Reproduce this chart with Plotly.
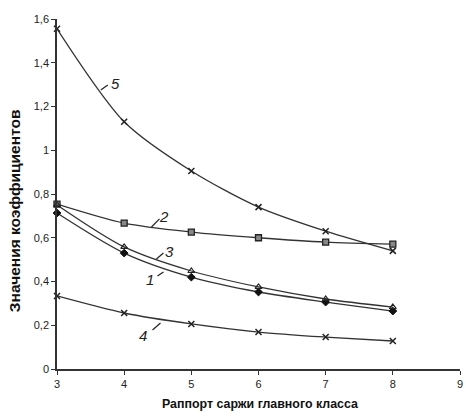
import plotly.graph_objects as go

x_vals = [3, 4, 5, 6, 7, 8]
s1 = [0.713, 0.53, 0.42, 0.352, 0.306, 0.265]
s2 = [0.754, 0.667, 0.626, 0.60, 0.58, 0.571]
s3 = [0.75, 0.558, 0.448, 0.375, 0.32, 0.283]
s4 = [0.334, 0.256, 0.206, 0.169, 0.146, 0.128]
s5 = [1.555, 1.13, 0.905, 0.74, 0.63, 0.54]

y_tickvals = [0, 0.2, 0.4, 0.6, 0.8, 1.0, 1.2, 1.4, 1.6]
y_ticktext = ["0", "0,2", "0,4", "0,6", "0,8", "1", "1,2", "1,4", "1,6"]
x_tickvals = [3, 4, 5, 6, 7, 8, 9]

x_title = "Раппорт саржи главного класса"
y_title = "Значения коэффициентов"

# curve labels: text, text position, leader line start/end
label_text = ["1", "2", "3", "4", "5"]
label_x = [4.378, 4.60, 4.674, 4.274, 3.874]
label_y = [0.411, 0.695, 0.535, 0.155, 1.307]
lead_x0 = [4.496, 4.407, 4.481, 4.422, 3.652]
lead_y0 = [0.425, 0.649, 0.503, 0.178, 1.275]
lead_x1 = [4.585, 4.526, 4.585, 4.541, 3.756]
lead_y1 = [0.443, 0.686, 0.530, 0.210, 1.298]

LC = "#333333"
fig = go.Figure()
series = [
    (s1, dict(symbol="diamond", size=6, color="#111111", line=dict(width=1, color="#111111"))),
    (s2, dict(symbol="square", size=6, color="#888888", line=dict(width=1.3, color="#222222"))),
    (s3, dict(symbol="triangle-up-open", size=6, color="#222222", line=dict(width=1.2, color="#222222"))),
    (s4, dict(symbol="x-thin", size=6, color="#222222", line=dict(width=1.5, color="#222222"))),
    (s5, dict(symbol="x-thin", size=6, color="#222222", line=dict(width=1.5, color="#222222"))),
]
for ys, mk in series:
    fig.add_trace(go.Scatter(x=x_vals, y=ys, mode="lines+markers",
                             line=dict(color=LC, width=1.3, shape="spline", smoothing=0.8),
                             marker=mk, showlegend=False, cliponaxis=False))

for i in range(len(label_text)):
    fig.add_shape(type="line", xref="x", yref="y", x0=lead_x0[i], y0=lead_y0[i],
                  x1=lead_x1[i], y1=lead_y1[i], line=dict(color="#222222", width=1.2))
    fig.add_annotation(x=label_x[i], y=label_y[i], text="<i>" + label_text[i] + "</i>",
                       showarrow=False, font=dict(family="Liberation Sans", size=15, color="#222222"))

# axis titles
fig.add_annotation(xref="paper", yref="paper", x=0.504, y=0, yshift=-35, xanchor="center",
                   yanchor="middle", showarrow=False, text="<b>" + x_title + "</b>",
                   font=dict(family="Liberation Sans", size=12.4, color="#111111"))
fig.add_annotation(xref="paper", yref="paper", x=0, xshift=-43, y=0.451, xanchor="center",
                   yanchor="middle", showarrow=False, textangle=-90, text="<b>" + y_title + "</b>",
                   font=dict(family="Liberation Sans", size=15.5, color="#111111"))

fig.update_layout(
    width=466, height=416,
    margin=dict(l=57, r=6, t=19, b=47),
    paper_bgcolor="white", plot_bgcolor="white",
    font=dict(family="Liberation Sans", size=11, color="#222222"),
)
fig.update_xaxes(range=[3, 9], tickvals=x_tickvals, showgrid=False, zeroline=False,
                 showline=True, linecolor="#333333", linewidth=1.5, automargin=False,
                 ticks="outside", ticklen=4, tickcolor="#333333",
                 tickfont=dict(size=11))
fig.update_yaxes(range=[0, 1.6], tickvals=y_tickvals, ticktext=y_ticktext, showgrid=False,
                 zeroline=False, showline=True, linecolor="#333333", linewidth=1.5, automargin=False,
                 ticks="outside", ticklen=4, tickcolor="#333333",
                 tickfont=dict(size=11))

fig.write_html("out.html", config={"displayModeBar": False},
               post_script="document.body.style.margin='0';document.body.style.padding='0';")
